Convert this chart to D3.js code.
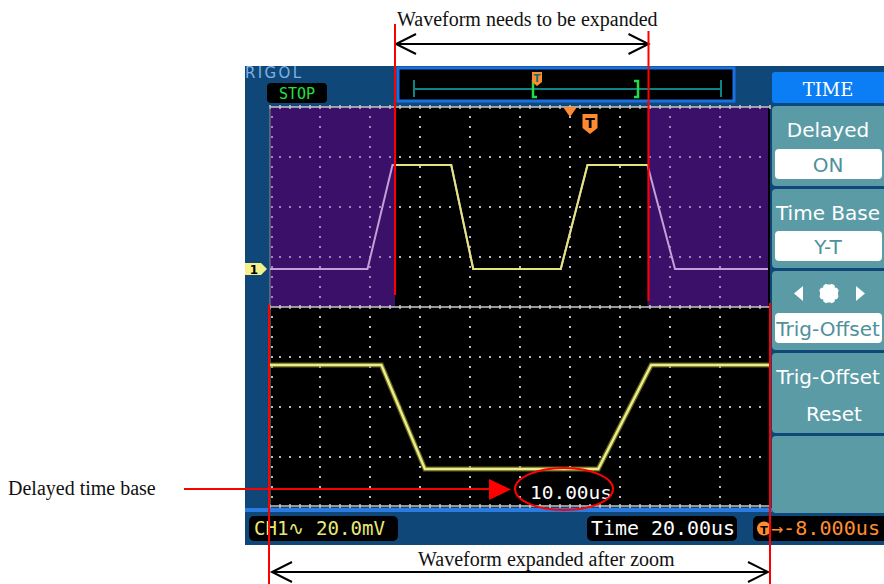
<!DOCTYPE html>
<html><head><meta charset="utf-8">
<script src="https://cdn.jsdelivr.net/npm/d3@7"></script>
<style>html,body{margin:0;padding:0;background:#fff;}svg{display:block}</style>
</head><body>
<svg id="c" width="884" height="584"></svg>
<script>
// ---------------- data ----------------
const timeUs  = [-100, -61, -51, -27.5, -18.7, 16.3, 27, 51, 62, 100];   // CH1 waveform time points (us)
const levelMv = [0, 0, 41.6, 41.6, 0, 0, 41.6, 41.6, 0, 0];               // CH1 level (mV)
const mainRangeUs = [-100, 100];   // main time base 20us/div, 10 div
const zoomRangeUs = [-50, 51];     // delayed window (10us/div)
const vRangeMv    = [-15.2, 64.8]; // 20mV/div, 4 div per window
const trigMarkUs  = [20, 28];      // trigger markers on the main window
const menuTitle   = "TIME";
const menuItems   = ["Delayed", "Time Base", "", "Trig-Offset", ""];
const menuValues  = ["ON", "Y-T", "Trig-Offset", "", ""];
const menuLine2   = ["", "", "", "Reset", ""];
const statusTexts = ["CH1\u223F 20.0mV", "Time 20.00us", "\u2192-8.000us"];
const delayedLabel = "10.00us";
const annotations = ["Waveform needs to be expanded", "Waveform expanded after zoom", "Delayed time base"];

// ---------------- layout ----------------
const svg = d3.select("#c");
const X0 = 270, X1 = 770;
const UP_T = 107, LO_T = 307, LO_B = 507;
const xMain = d3.scaleLinear().domain(mainRangeUs).range([X0, X1]);
const xZoom = d3.scaleLinear().domain(zoomRangeUs).range([X0, X1]);
const yUp = d3.scaleLinear().domain(vRangeMv).range([LO_T, UP_T]);
const yLo = d3.scaleLinear().domain(vRangeMv).range([LO_B, LO_T]);
const zx0 = xMain(zoomRangeUs[0]), zx1 = xMain(zoomRangeUs[1]);
const pts = timeUs.map((t, i) => [t, levelMv[i]]);

const mono = "'DejaVu Sans Mono', monospace";
const sans = "'DejaVu Sans', sans-serif";

// screen background
svg.append("rect").attr("x", 245).attr("y", 66).attr("width", 639).attr("height", 479).attr("fill", "#0f4878");

// windows
svg.append("rect").attr("x", X0).attr("y", UP_T).attr("width", X1 - X0).attr("height", LO_B - UP_T).attr("fill", "#000");
svg.append("rect").attr("x", X0).attr("y", UP_T).attr("width", zx0 - X0).attr("height", LO_T - UP_T).attr("fill", "#3a1068");
svg.append("rect").attr("x", zx1).attr("y", UP_T).attr("width", X1 - 2 - zx1).attr("height", LO_T - UP_T).attr("fill", "#3a1068");

// grid
const inZoom = x => x >= zx0 && x <= zx1;
function grid(top, purple) {
  const g = svg.append("g");
  const col = x => (purple && !inZoom(x)) ? "#9c86bc" : "#bcbcbc";
  const dots = [];
  d3.range(1, 4).forEach(i => d3.range(1, 50).forEach(k => dots.push([X0 + 10 * k, top + 50 * i])));
  d3.range(1, 10).forEach(j => d3.range(1, 20).forEach(k => dots.push([X0 + 50 * j, top + 10 * k])));
  d3.range(1, 20).forEach(k => dots.push([X0 + 2, top + 10 * k]));
  g.selectAll("rect").data(dots).join("rect")
    .attr("x", d => d[0] - 1).attr("y", d => d[1] - 1).attr("width", 2).attr("height", 2)
    .attr("fill", d => col(d[0]));
}
grid(UP_T, true);
grid(LO_T, false);

// tick lines (top, separator, bottom)
[UP_T, LO_T, LO_B - 1].forEach(y => {
  const g = svg.append("g");
  g.append("line").attr("x1", X0).attr("x2", X1).attr("y1", y).attr("y2", y).attr("stroke", "#c8c8c8").attr("stroke-width", 1.5);
  g.selectAll("line.t").data(d3.range(X0, X1 + 1, 10)).join("line").attr("class", "t")
    .attr("x1", d => d).attr("x2", d => d).attr("y1", y - 2).attr("y2", y + 2)
    .attr("stroke", "#c8c8c8").attr("stroke-width", 1.5);
});
svg.append("line").attr("x1", X0).attr("x2", X0).attr("y1", UP_T).attr("y2", LO_B).attr("stroke", "#8c8c8c").attr("stroke-width", 1);

// clip paths
const defs = svg.append("defs");
defs.append("clipPath").attr("id", "zc").append("rect").attr("x", zx0).attr("y", UP_T).attr("width", zx1 - zx0).attr("height", LO_T - UP_T);
defs.append("clipPath").attr("id", "lc").append("rect").attr("x", X0).attr("y", LO_T).attr("width", X1 - X0).attr("height", LO_B - LO_T);
defs.append("clipPath").attr("id", "uc").append("rect").attr("x", X0).attr("y", UP_T).attr("width", X1 - 2 - X0).attr("height", LO_T - UP_T);

// traces
const lineUp = d3.line().x(d => xMain(d[0])).y(d => yUp(d[1]));
const lineLo = d3.line().x(d => xZoom(d[0])).y(d => yLo(d[1]));
svg.append("path").attr("d", lineUp(pts)).attr("clip-path", "url(#uc)").attr("fill", "none").attr("stroke", "#c4a0d6").attr("stroke-width", 2);
svg.append("path").attr("d", lineUp(pts)).attr("clip-path", "url(#zc)").attr("fill", "none").attr("stroke", "#e4e47c").attr("stroke-width", 2);
svg.append("path").attr("d", lineLo(pts)).attr("clip-path", "url(#lc)").attr("fill", "none").attr("stroke", "#8c8c30").attr("stroke-width", 5).attr("opacity", 0.7);
svg.append("path").attr("d", lineLo(pts)).attr("clip-path", "url(#lc)").attr("fill", "none").attr("stroke", "#ecec84").attr("stroke-width", 2.5);

// channel marker
const gy = yUp(0);
svg.append("polygon").attr("points", `245,${gy - 6} 261,${gy - 6} 267,${gy} 261,${gy + 6} 245,${gy + 6}`).attr("fill", "#f4f08a");
svg.append("text").attr("x", 254).attr("y", gy + 5).attr("text-anchor", "middle").attr("font-family", sans).attr("font-weight", "bold").attr("font-size", 12).attr("fill", "#000").text("1");

// trigger markers
const tx = xMain(trigMarkUs[0]);
svg.append("polygon").attr("points", `${tx - 7},${UP_T} ${tx + 7},${UP_T} ${tx},${UP_T + 10}`).attr("fill", "#ff8a30");
const tx2 = xMain(trigMarkUs[1]);
svg.append("polygon").attr("points", `${tx2 - 7.5},114 ${tx2 + 7.5},114 ${tx2 + 7.5},128 ${tx2},134 ${tx2 - 7.5},128`).attr("fill", "#ff8a30");
svg.append("text").attr("x", tx2).attr("y", 128).attr("text-anchor", "middle").attr("font-family", sans).attr("font-weight", "bold").attr("font-size", 14).attr("fill", "#000").text("T");

// RIGOL / STOP
svg.append("text").attr("x", 245).attr("y", 78).attr("font-family", sans).attr("font-size", 15).attr("fill", "#7eb2e2").attr("textLength", 56).text("RIGOL");
svg.append("rect").attr("x", 267).attr("y", 83).attr("width", 60).attr("height", 20).attr("rx", 4).attr("fill", "#000");
svg.append("text").attr("x", 297).attr("y", 99).attr("text-anchor", "middle").attr("font-family", mono).attr("font-size", 15).attr("fill", "#22e040").text("STOP");

// memory bar at top
svg.append("rect").attr("x", 398).attr("y", 68).attr("width", 336).attr("height", 33).attr("fill", "#000").attr("stroke", "#1a70e0").attr("stroke-width", 3);
svg.append("line").attr("x1", 414).attr("x2", 721).attr("y1", 89).attr("y2", 89).attr("stroke", "#0e8484").attr("stroke-width", 2);
[414, 721].forEach(x => svg.append("line").attr("x1", x).attr("x2", x).attr("y1", 80).attr("y2", 97).attr("stroke", "#0e8484").attr("stroke-width", 2));
svg.append("path").attr("d", "M537,81 H533 V97 H537").attr("fill", "none").attr("stroke", "#22dd44").attr("stroke-width", 2.5);
svg.append("path").attr("d", "M634,81 H638 V97 H634").attr("fill", "none").attr("stroke", "#22dd44").attr("stroke-width", 2.5);
svg.append("polygon").attr("points", "532,72 542,72 542,82 537,86 532,82").attr("fill", "#ff8a30");
svg.append("text").attr("x", 537).attr("y", 82).attr("text-anchor", "middle").attr("font-family", sans).attr("font-weight", "bold").attr("font-size", 10).attr("fill", "#0e7070").text("T");

// blue strip under lower window
svg.append("rect").attr("x", 245).attr("y", 508).attr("width", 527).attr("height", 4).attr("fill", "#2a7ce0");

// menu
const MX = 772, MW = 112, MC = MX + MW / 2;
svg.append("rect").attr("x", MX).attr("y", 72).attr("width", MW + 4).attr("height", 31).attr("rx", 3).attr("fill", "#0b7ef5");
svg.append("text").attr("x", MC).attr("y", 96).attr("text-anchor", "middle").attr("font-family", "'DejaVu Serif', serif").attr("font-size", 18).attr("fill", "#fff").text(menuTitle);
const itemY = [[106, 186], [189, 268], [271, 350], [353, 433], [436, 513]];
itemY.forEach((r, i) => {
  svg.append("rect").attr("x", MX).attr("y", r[0]).attr("width", MW + 4).attr("height", r[1] - r[0]).attr("rx", 4).attr("fill", "#5a9ba6");
  if (menuItems[i]) {
    svg.append("text").attr("x", MC).attr("y", r[0] + 31).attr("text-anchor", "middle").attr("font-family", sans).attr("font-size", 20).attr("fill", "#fff").text(menuItems[i]);
  }
  if (menuLine2[i]) {
    svg.append("text").attr("x", MC + 6).attr("y", r[0] + 68).attr("text-anchor", "middle").attr("font-family", sans).attr("font-size", 20).attr("fill", "#fff").text(menuLine2[i]);
  }
  if (menuValues[i]) {
    const by = r[1] - 37;
    svg.append("rect").attr("x", MX + 3).attr("y", by).attr("width", MW - 5).attr("height", 30).attr("rx", 4).attr("fill", "#fff");
    svg.append("text").attr("x", MC).attr("y", by + 23).attr("text-anchor", "middle").attr("font-family", sans).attr("font-size", 20).attr("fill", "#4e909c").text(menuValues[i]);
  }
});
// knob icon
svg.append("polygon").attr("points", "803,286 803,301 794,293.5").attr("fill", "#fff");
svg.append("polygon").attr("points", "856,286 856,301 865,293.5").attr("fill", "#fff");
svg.append("circle").attr("cx", 829).attr("cy", 293.5).attr("r", 10).attr("fill", "#fff");
d3.range(0, 8).forEach(k => {
  const a = k * Math.PI / 4;
  svg.append("rect").attr("x", 829 + 11 * Math.cos(a) - 2).attr("y", 293.5 + 11 * Math.sin(a) - 2).attr("width", 4).attr("height", 4).attr("fill", "#5a9ba6");
});

// status bar
const boxes = [[249, 398, "#e8e878"], [587, 737, "#ffffff"], [753, 890, "#ff8c30"]];
boxes.forEach(b => svg.append("rect").attr("x", b[0]).attr("y", 516).attr("width", b[1] - b[0]).attr("height", 25).attr("rx", 5).attr("fill", "#000"));
svg.append("text").attr("x", 254).attr("y", 535).attr("font-family", mono).attr("font-size", 19).attr("fill", boxes[0][2]).attr("textLength", 131).attr("lengthAdjust", "spacingAndGlyphs").text(statusTexts[0]);
svg.append("text").attr("x", 591).attr("y", 535).attr("font-family", mono).attr("font-size", 19).attr("fill", boxes[1][2]).attr("textLength", 144).attr("lengthAdjust", "spacingAndGlyphs").text(statusTexts[1]);
svg.append("circle").attr("cx", 764).attr("cy", 528.5).attr("r", 7).attr("fill", "#ff8c30");
svg.append("text").attr("x", 764).attr("y", 533.5).attr("text-anchor", "middle").attr("font-family", sans).attr("font-weight", "bold").attr("font-size", 11).attr("fill", "#000").text("T");
svg.append("text").attr("x", 771).attr("y", 535).attr("font-family", mono).attr("font-size", 19).attr("fill", boxes[2][2]).attr("textLength", 109).attr("lengthAdjust", "spacingAndGlyphs").text(statusTexts[2]);

// delayed time base label
svg.append("text").attr("x", 530).attr("y", 499).attr("font-family", mono).attr("font-size", 18).attr("fill", "#fff").attr("textLength", 82).attr("lengthAdjust", "spacingAndGlyphs").text(delayedLabel);

// ---------------- annotations ----------------
const serif = "'Liberation Serif', 'Times New Roman', serif";
svg.append("text").attr("x", 397).attr("y", 26).attr("font-family", serif).attr("font-size", 20).attr("fill", "#111").text(annotations[0]);
svg.append("text").attr("x", 418).attr("y", 566).attr("font-family", serif).attr("font-size", 20).attr("fill", "#111").text(annotations[1]);
svg.append("text").attr("x", 8).attr("y", 495).attr("font-family", serif).attr("font-size", 20).attr("fill", "#111").text(annotations[2]);

function dblArrow(xa, xb, y) {
  svg.append("line").attr("x1", xa).attr("x2", xb).attr("y1", y).attr("y2", y).attr("stroke", "#000").attr("stroke-width", 2);
  svg.append("path").attr("d", `M${xa + 20},${y - 10} L${xa},${y} L${xa + 20},${y + 10}`).attr("fill", "none").attr("stroke", "#000").attr("stroke-width", 2);
  svg.append("path").attr("d", `M${xb - 20},${y - 10} L${xb},${y} L${xb - 20},${y + 10}`).attr("fill", "none").attr("stroke", "#000").attr("stroke-width", 2);
}
dblArrow(zx0 + 1, zx1 + 1, 44);
dblArrow(X0 + 2, X1 - 2, 572);

const red = "#ff0000";
svg.append("line").attr("x1", zx0).attr("x2", zx0).attr("y1", 24).attr("y2", 295).attr("stroke", red).attr("stroke-width", 2);
svg.append("line").attr("x1", zx1 + 1).attr("x2", zx1 + 1).attr("y1", 31).attr("y2", 301).attr("stroke", red).attr("stroke-width", 2);
svg.append("line").attr("x1", X0 - 1).attr("x2", X0 - 1).attr("y1", 305).attr("y2", 584).attr("stroke", red).attr("stroke-width", 2);
svg.append("line").attr("x1", X1).attr("x2", X1).attr("y1", 303).attr("y2", 584).attr("stroke", red).attr("stroke-width", 2);
svg.append("line").attr("x1", 184).attr("x2", 492).attr("y1", 489).attr("y2", 489).attr("stroke", red).attr("stroke-width", 2);
svg.append("polygon").attr("points", "489,479 511,489.5 489,500").attr("fill", red);
svg.append("ellipse").attr("cx", 564).attr("cy", 489).attr("rx", 49).attr("ry", 21).attr("fill", "none").attr("stroke", red).attr("stroke-width", 2);
</script>
</body></html>
